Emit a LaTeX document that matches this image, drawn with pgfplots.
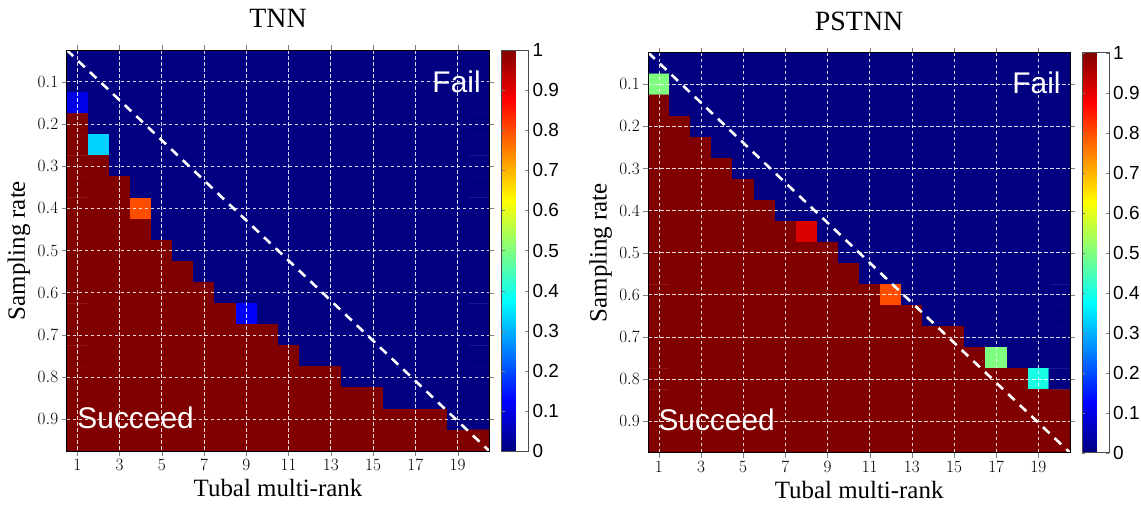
\documentclass[border=0pt]{standalone}
\usepackage{fontspec}
\setmainfont{Liberation Serif}
\newfontfamily\arial{Liberation Sans}
\usepackage{pgfplots}
\usepackage{pgfplotstable}
\pgfplotsset{compat=1.18}

\pgfplotstableread[row sep=\\]{
x y c\\
1 0.05 0\\ 2 0.05 0\\ 3 0.05 0\\ 4 0.05 0\\ 5 0.05 0\\ 6 0.05 0\\ 7 0.05 0\\ 8 0.05 0\\ 9 0.05 0\\ 10 0.05 0\\ 11 0.05 0\\ 12 0.05 0\\ 13 0.05 0\\ 14 0.05 0\\ 15 0.05 0\\ 16 0.05 0\\ 17 0.05 0\\ 18 0.05 0\\ 19 0.05 0\\ 20 0.05 0\\
1 0.10 0\\ 2 0.10 0\\ 3 0.10 0\\ 4 0.10 0\\ 5 0.10 0\\ 6 0.10 0\\ 7 0.10 0\\ 8 0.10 0\\ 9 0.10 0\\ 10 0.10 0\\ 11 0.10 0\\ 12 0.10 0\\ 13 0.10 0\\ 14 0.10 0\\ 15 0.10 0\\ 16 0.10 0\\ 17 0.10 0\\ 18 0.10 0\\ 19 0.10 0\\ 20 0.10 0\\
1 0.15 0.1\\ 2 0.15 0\\ 3 0.15 0\\ 4 0.15 0\\ 5 0.15 0\\ 6 0.15 0\\ 7 0.15 0\\ 8 0.15 0\\ 9 0.15 0\\ 10 0.15 0\\ 11 0.15 0\\ 12 0.15 0\\ 13 0.15 0\\ 14 0.15 0\\ 15 0.15 0\\ 16 0.15 0\\ 17 0.15 0\\ 18 0.15 0\\ 19 0.15 0\\ 20 0.15 0\\
1 0.20 1\\ 2 0.20 0\\ 3 0.20 0\\ 4 0.20 0\\ 5 0.20 0\\ 6 0.20 0\\ 7 0.20 0\\ 8 0.20 0\\ 9 0.20 0\\ 10 0.20 0\\ 11 0.20 0\\ 12 0.20 0\\ 13 0.20 0\\ 14 0.20 0\\ 15 0.20 0\\ 16 0.20 0\\ 17 0.20 0\\ 18 0.20 0\\ 19 0.20 0\\ 20 0.20 0\\
1 0.25 1\\ 2 0.25 0.33\\ 3 0.25 0\\ 4 0.25 0\\ 5 0.25 0\\ 6 0.25 0\\ 7 0.25 0\\ 8 0.25 0\\ 9 0.25 0\\ 10 0.25 0\\ 11 0.25 0\\ 12 0.25 0\\ 13 0.25 0\\ 14 0.25 0\\ 15 0.25 0\\ 16 0.25 0\\ 17 0.25 0\\ 18 0.25 0\\ 19 0.25 0\\ 20 0.25 0\\
1 0.30 1\\ 2 0.30 1\\ 3 0.30 0\\ 4 0.30 0\\ 5 0.30 0\\ 6 0.30 0\\ 7 0.30 0\\ 8 0.30 0\\ 9 0.30 0\\ 10 0.30 0\\ 11 0.30 0\\ 12 0.30 0\\ 13 0.30 0\\ 14 0.30 0\\ 15 0.30 0\\ 16 0.30 0\\ 17 0.30 0\\ 18 0.30 0\\ 19 0.30 0\\ 20 0.30 0\\
1 0.35 1\\ 2 0.35 1\\ 3 0.35 1\\ 4 0.35 0\\ 5 0.35 0\\ 6 0.35 0\\ 7 0.35 0\\ 8 0.35 0\\ 9 0.35 0\\ 10 0.35 0\\ 11 0.35 0\\ 12 0.35 0\\ 13 0.35 0\\ 14 0.35 0\\ 15 0.35 0\\ 16 0.35 0\\ 17 0.35 0\\ 18 0.35 0\\ 19 0.35 0\\ 20 0.35 0\\
1 0.40 1\\ 2 0.40 1\\ 3 0.40 1\\ 4 0.40 0.8\\ 5 0.40 0\\ 6 0.40 0\\ 7 0.40 0\\ 8 0.40 0\\ 9 0.40 0\\ 10 0.40 0\\ 11 0.40 0\\ 12 0.40 0\\ 13 0.40 0\\ 14 0.40 0\\ 15 0.40 0\\ 16 0.40 0\\ 17 0.40 0\\ 18 0.40 0\\ 19 0.40 0\\ 20 0.40 0\\
1 0.45 1\\ 2 0.45 1\\ 3 0.45 1\\ 4 0.45 1\\ 5 0.45 0\\ 6 0.45 0\\ 7 0.45 0\\ 8 0.45 0\\ 9 0.45 0\\ 10 0.45 0\\ 11 0.45 0\\ 12 0.45 0\\ 13 0.45 0\\ 14 0.45 0\\ 15 0.45 0\\ 16 0.45 0\\ 17 0.45 0\\ 18 0.45 0\\ 19 0.45 0\\ 20 0.45 0\\
1 0.50 1\\ 2 0.50 1\\ 3 0.50 1\\ 4 0.50 1\\ 5 0.50 1\\ 6 0.50 0\\ 7 0.50 0\\ 8 0.50 0\\ 9 0.50 0\\ 10 0.50 0\\ 11 0.50 0\\ 12 0.50 0\\ 13 0.50 0\\ 14 0.50 0\\ 15 0.50 0\\ 16 0.50 0\\ 17 0.50 0\\ 18 0.50 0\\ 19 0.50 0\\ 20 0.50 0\\
1 0.55 1\\ 2 0.55 1\\ 3 0.55 1\\ 4 0.55 1\\ 5 0.55 1\\ 6 0.55 1\\ 7 0.55 0\\ 8 0.55 0\\ 9 0.55 0\\ 10 0.55 0\\ 11 0.55 0\\ 12 0.55 0\\ 13 0.55 0\\ 14 0.55 0\\ 15 0.55 0\\ 16 0.55 0\\ 17 0.55 0\\ 18 0.55 0\\ 19 0.55 0\\ 20 0.55 0\\
1 0.60 1\\ 2 0.60 1\\ 3 0.60 1\\ 4 0.60 1\\ 5 0.60 1\\ 6 0.60 1\\ 7 0.60 1\\ 8 0.60 0\\ 9 0.60 0\\ 10 0.60 0\\ 11 0.60 0\\ 12 0.60 0\\ 13 0.60 0\\ 14 0.60 0\\ 15 0.60 0\\ 16 0.60 0\\ 17 0.60 0\\ 18 0.60 0\\ 19 0.60 0\\ 20 0.60 0\\
1 0.65 1\\ 2 0.65 1\\ 3 0.65 1\\ 4 0.65 1\\ 5 0.65 1\\ 6 0.65 1\\ 7 0.65 1\\ 8 0.65 1\\ 9 0.65 0.12\\ 10 0.65 0\\ 11 0.65 0\\ 12 0.65 0\\ 13 0.65 0\\ 14 0.65 0\\ 15 0.65 0\\ 16 0.65 0\\ 17 0.65 0\\ 18 0.65 0\\ 19 0.65 0\\ 20 0.65 0\\
1 0.70 1\\ 2 0.70 1\\ 3 0.70 1\\ 4 0.70 1\\ 5 0.70 1\\ 6 0.70 1\\ 7 0.70 1\\ 8 0.70 1\\ 9 0.70 1\\ 10 0.70 1\\ 11 0.70 0\\ 12 0.70 0\\ 13 0.70 0\\ 14 0.70 0\\ 15 0.70 0\\ 16 0.70 0\\ 17 0.70 0\\ 18 0.70 0\\ 19 0.70 0\\ 20 0.70 0\\
1 0.75 1\\ 2 0.75 1\\ 3 0.75 1\\ 4 0.75 1\\ 5 0.75 1\\ 6 0.75 1\\ 7 0.75 1\\ 8 0.75 1\\ 9 0.75 1\\ 10 0.75 1\\ 11 0.75 1\\ 12 0.75 0\\ 13 0.75 0\\ 14 0.75 0\\ 15 0.75 0\\ 16 0.75 0\\ 17 0.75 0\\ 18 0.75 0\\ 19 0.75 0\\ 20 0.75 0\\
1 0.80 1\\ 2 0.80 1\\ 3 0.80 1\\ 4 0.80 1\\ 5 0.80 1\\ 6 0.80 1\\ 7 0.80 1\\ 8 0.80 1\\ 9 0.80 1\\ 10 0.80 1\\ 11 0.80 1\\ 12 0.80 1\\ 13 0.80 1\\ 14 0.80 0\\ 15 0.80 0\\ 16 0.80 0\\ 17 0.80 0\\ 18 0.80 0\\ 19 0.80 0\\ 20 0.80 0\\
1 0.85 1\\ 2 0.85 1\\ 3 0.85 1\\ 4 0.85 1\\ 5 0.85 1\\ 6 0.85 1\\ 7 0.85 1\\ 8 0.85 1\\ 9 0.85 1\\ 10 0.85 1\\ 11 0.85 1\\ 12 0.85 1\\ 13 0.85 1\\ 14 0.85 1\\ 15 0.85 1\\ 16 0.85 0\\ 17 0.85 0\\ 18 0.85 0\\ 19 0.85 0\\ 20 0.85 0\\
1 0.90 1\\ 2 0.90 1\\ 3 0.90 1\\ 4 0.90 1\\ 5 0.90 1\\ 6 0.90 1\\ 7 0.90 1\\ 8 0.90 1\\ 9 0.90 1\\ 10 0.90 1\\ 11 0.90 1\\ 12 0.90 1\\ 13 0.90 1\\ 14 0.90 1\\ 15 0.90 1\\ 16 0.90 1\\ 17 0.90 1\\ 18 0.90 1\\ 19 0.90 0\\ 20 0.90 0\\
1 0.95 1\\ 2 0.95 1\\ 3 0.95 1\\ 4 0.95 1\\ 5 0.95 1\\ 6 0.95 1\\ 7 0.95 1\\ 8 0.95 1\\ 9 0.95 1\\ 10 0.95 1\\ 11 0.95 1\\ 12 0.95 1\\ 13 0.95 1\\ 14 0.95 1\\ 15 0.95 1\\ 16 0.95 1\\ 17 0.95 1\\ 18 0.95 1\\ 19 0.95 1\\ 20 0.95 1\\
}\tnn

\pgfplotstableread[row sep=\\]{
x y c\\
1 0.05 0\\ 2 0.05 0\\ 3 0.05 0\\ 4 0.05 0\\ 5 0.05 0\\ 6 0.05 0\\ 7 0.05 0\\ 8 0.05 0\\ 9 0.05 0\\ 10 0.05 0\\ 11 0.05 0\\ 12 0.05 0\\ 13 0.05 0\\ 14 0.05 0\\ 15 0.05 0\\ 16 0.05 0\\ 17 0.05 0\\ 18 0.05 0\\ 19 0.05 0\\ 20 0.05 0\\
1 0.10 0.5\\ 2 0.10 0\\ 3 0.10 0\\ 4 0.10 0\\ 5 0.10 0\\ 6 0.10 0\\ 7 0.10 0\\ 8 0.10 0\\ 9 0.10 0\\ 10 0.10 0\\ 11 0.10 0\\ 12 0.10 0\\ 13 0.10 0\\ 14 0.10 0\\ 15 0.10 0\\ 16 0.10 0\\ 17 0.10 0\\ 18 0.10 0\\ 19 0.10 0\\ 20 0.10 0\\
1 0.15 1\\ 2 0.15 0\\ 3 0.15 0\\ 4 0.15 0\\ 5 0.15 0\\ 6 0.15 0\\ 7 0.15 0\\ 8 0.15 0\\ 9 0.15 0\\ 10 0.15 0\\ 11 0.15 0\\ 12 0.15 0\\ 13 0.15 0\\ 14 0.15 0\\ 15 0.15 0\\ 16 0.15 0\\ 17 0.15 0\\ 18 0.15 0\\ 19 0.15 0\\ 20 0.15 0\\
1 0.20 1\\ 2 0.20 1\\ 3 0.20 0\\ 4 0.20 0\\ 5 0.20 0\\ 6 0.20 0\\ 7 0.20 0\\ 8 0.20 0\\ 9 0.20 0\\ 10 0.20 0\\ 11 0.20 0\\ 12 0.20 0\\ 13 0.20 0\\ 14 0.20 0\\ 15 0.20 0\\ 16 0.20 0\\ 17 0.20 0\\ 18 0.20 0\\ 19 0.20 0\\ 20 0.20 0\\
1 0.25 1\\ 2 0.25 1\\ 3 0.25 1\\ 4 0.25 0\\ 5 0.25 0\\ 6 0.25 0\\ 7 0.25 0\\ 8 0.25 0\\ 9 0.25 0\\ 10 0.25 0\\ 11 0.25 0\\ 12 0.25 0\\ 13 0.25 0\\ 14 0.25 0\\ 15 0.25 0\\ 16 0.25 0\\ 17 0.25 0\\ 18 0.25 0\\ 19 0.25 0\\ 20 0.25 0\\
1 0.30 1\\ 2 0.30 1\\ 3 0.30 1\\ 4 0.30 1\\ 5 0.30 0\\ 6 0.30 0\\ 7 0.30 0\\ 8 0.30 0\\ 9 0.30 0\\ 10 0.30 0\\ 11 0.30 0\\ 12 0.30 0\\ 13 0.30 0\\ 14 0.30 0\\ 15 0.30 0\\ 16 0.30 0\\ 17 0.30 0\\ 18 0.30 0\\ 19 0.30 0\\ 20 0.30 0\\
1 0.35 1\\ 2 0.35 1\\ 3 0.35 1\\ 4 0.35 1\\ 5 0.35 1\\ 6 0.35 0\\ 7 0.35 0\\ 8 0.35 0\\ 9 0.35 0\\ 10 0.35 0\\ 11 0.35 0\\ 12 0.35 0\\ 13 0.35 0\\ 14 0.35 0\\ 15 0.35 0\\ 16 0.35 0\\ 17 0.35 0\\ 18 0.35 0\\ 19 0.35 0\\ 20 0.35 0\\
1 0.40 1\\ 2 0.40 1\\ 3 0.40 1\\ 4 0.40 1\\ 5 0.40 1\\ 6 0.40 1\\ 7 0.40 0\\ 8 0.40 0\\ 9 0.40 0\\ 10 0.40 0\\ 11 0.40 0\\ 12 0.40 0\\ 13 0.40 0\\ 14 0.40 0\\ 15 0.40 0\\ 16 0.40 0\\ 17 0.40 0\\ 18 0.40 0\\ 19 0.40 0\\ 20 0.40 0\\
1 0.45 1\\ 2 0.45 1\\ 3 0.45 1\\ 4 0.45 1\\ 5 0.45 1\\ 6 0.45 1\\ 7 0.45 1\\ 8 0.45 0.91\\ 9 0.45 0\\ 10 0.45 0\\ 11 0.45 0\\ 12 0.45 0\\ 13 0.45 0\\ 14 0.45 0\\ 15 0.45 0\\ 16 0.45 0\\ 17 0.45 0\\ 18 0.45 0\\ 19 0.45 0\\ 20 0.45 0\\
1 0.50 1\\ 2 0.50 1\\ 3 0.50 1\\ 4 0.50 1\\ 5 0.50 1\\ 6 0.50 1\\ 7 0.50 1\\ 8 0.50 1\\ 9 0.50 1\\ 10 0.50 0\\ 11 0.50 0\\ 12 0.50 0\\ 13 0.50 0\\ 14 0.50 0\\ 15 0.50 0\\ 16 0.50 0\\ 17 0.50 0\\ 18 0.50 0\\ 19 0.50 0\\ 20 0.50 0\\
1 0.55 1\\ 2 0.55 1\\ 3 0.55 1\\ 4 0.55 1\\ 5 0.55 1\\ 6 0.55 1\\ 7 0.55 1\\ 8 0.55 1\\ 9 0.55 1\\ 10 0.55 1\\ 11 0.55 0\\ 12 0.55 0\\ 13 0.55 0\\ 14 0.55 0\\ 15 0.55 0\\ 16 0.55 0\\ 17 0.55 0\\ 18 0.55 0\\ 19 0.55 0\\ 20 0.55 0\\
1 0.60 1\\ 2 0.60 1\\ 3 0.60 1\\ 4 0.60 1\\ 5 0.60 1\\ 6 0.60 1\\ 7 0.60 1\\ 8 0.60 1\\ 9 0.60 1\\ 10 0.60 1\\ 11 0.60 1\\ 12 0.60 0.8\\ 13 0.60 0\\ 14 0.60 0\\ 15 0.60 0\\ 16 0.60 0\\ 17 0.60 0\\ 18 0.60 0\\ 19 0.60 0\\ 20 0.60 0\\
1 0.65 1\\ 2 0.65 1\\ 3 0.65 1\\ 4 0.65 1\\ 5 0.65 1\\ 6 0.65 1\\ 7 0.65 1\\ 8 0.65 1\\ 9 0.65 1\\ 10 0.65 1\\ 11 0.65 1\\ 12 0.65 1\\ 13 0.65 1\\ 14 0.65 0\\ 15 0.65 0\\ 16 0.65 0\\ 17 0.65 0\\ 18 0.65 0\\ 19 0.65 0\\ 20 0.65 0\\
1 0.70 1\\ 2 0.70 1\\ 3 0.70 1\\ 4 0.70 1\\ 5 0.70 1\\ 6 0.70 1\\ 7 0.70 1\\ 8 0.70 1\\ 9 0.70 1\\ 10 0.70 1\\ 11 0.70 1\\ 12 0.70 1\\ 13 0.70 1\\ 14 0.70 1\\ 15 0.70 1\\ 16 0.70 0\\ 17 0.70 0\\ 18 0.70 0\\ 19 0.70 0\\ 20 0.70 0\\
1 0.75 1\\ 2 0.75 1\\ 3 0.75 1\\ 4 0.75 1\\ 5 0.75 1\\ 6 0.75 1\\ 7 0.75 1\\ 8 0.75 1\\ 9 0.75 1\\ 10 0.75 1\\ 11 0.75 1\\ 12 0.75 1\\ 13 0.75 1\\ 14 0.75 1\\ 15 0.75 1\\ 16 0.75 1\\ 17 0.75 0.5\\ 18 0.75 0\\ 19 0.75 0\\ 20 0.75 0\\
1 0.80 1\\ 2 0.80 1\\ 3 0.80 1\\ 4 0.80 1\\ 5 0.80 1\\ 6 0.80 1\\ 7 0.80 1\\ 8 0.80 1\\ 9 0.80 1\\ 10 0.80 1\\ 11 0.80 1\\ 12 0.80 1\\ 13 0.80 1\\ 14 0.80 1\\ 15 0.80 1\\ 16 0.80 1\\ 17 0.80 1\\ 18 0.80 1\\ 19 0.80 0.4\\ 20 0.80 0\\
1 0.85 1\\ 2 0.85 1\\ 3 0.85 1\\ 4 0.85 1\\ 5 0.85 1\\ 6 0.85 1\\ 7 0.85 1\\ 8 0.85 1\\ 9 0.85 1\\ 10 0.85 1\\ 11 0.85 1\\ 12 0.85 1\\ 13 0.85 1\\ 14 0.85 1\\ 15 0.85 1\\ 16 0.85 1\\ 17 0.85 1\\ 18 0.85 1\\ 19 0.85 1\\ 20 0.85 1\\
1 0.90 1\\ 2 0.90 1\\ 3 0.90 1\\ 4 0.90 1\\ 5 0.90 1\\ 6 0.90 1\\ 7 0.90 1\\ 8 0.90 1\\ 9 0.90 1\\ 10 0.90 1\\ 11 0.90 1\\ 12 0.90 1\\ 13 0.90 1\\ 14 0.90 1\\ 15 0.90 1\\ 16 0.90 1\\ 17 0.90 1\\ 18 0.90 1\\ 19 0.90 1\\ 20 0.90 1\\
1 0.95 1\\ 2 0.95 1\\ 3 0.95 1\\ 4 0.95 1\\ 5 0.95 1\\ 6 0.95 1\\ 7 0.95 1\\ 8 0.95 1\\ 9 0.95 1\\ 10 0.95 1\\ 11 0.95 1\\ 12 0.95 1\\ 13 0.95 1\\ 14 0.95 1\\ 15 0.95 1\\ 16 0.95 1\\ 17 0.95 1\\ 18 0.95 1\\ 19 0.95 1\\ 20 0.95 1\\
}\pstnn

\tikzset{ann/.style={text=white, inner sep=0pt, font=\arial\fontsize{30}{30}\selectfont}}

\pgfplotsset{
  hm/.style={
    scale only axis, axis on top, y dir=reverse,
    xmin=0.5, xmax=20.5, ymin=0.025, ymax=0.975,
    xtick={1,3,5,7,9,11,13,15,17,19},
    ytick={0.1,0.2,0.3,0.4,0.5,0.6,0.7,0.8,0.9},
    yticklabel style={/pgf/number format/fixed, /pgf/number format/precision=1, /pgf/number format/fixed zerofill},
    tick align=outside, major tick length=5bp,
    tick label style={font=\fontsize{17}{17}\selectfont},
    grid=major,
    major grid style={white, opacity=0.85, line width=0.7bp, dash pattern=on 3.5bp off 2.5bp},
    axis line style={line width=0.8bp},
    colormap/jet, point meta min=0, point meta max=1,
    colorbar,
    colorbar style={
      at={(parent axis.north east)}, anchor=north west, xshift=3.9bp,
      width=26.6bp,
      ytick={0,0.1,0.2,0.3,0.4,0.5,0.6,0.7,0.8,0.9,1},
      yticklabels={0,0.1,0.2,0.3,0.4,0.5,0.6,0.7,0.8,0.9,1},
      yticklabel style={font=\arial\fontsize{19}{19}\selectfont, inner sep=0pt, xshift=4bp},
      tick align=inside, major tick length=3bp,
      axis line style={draw=black!70, line width=0.8bp},
    },
    xlabel={Tubal multi-rank}, ylabel={Sampling rate},
    every axis title/.style={at={(axis description cs:0.5,1.0566)}, anchor=base, font=\fontsize{28}{28}\selectfont},
    every axis x label/.style={at={(axis description cs:0.5,-0.1147)}, anchor=base, font=\fontsize{25}{25}\selectfont},
    every axis y label/.style={at={(axis description cs:-0.0987,0.5)}, rotate=90, anchor=base, font=\fontsize{25}{25}\selectfont},
  },
}

\begin{document}
\begin{tikzpicture}
\path[use as bounding box] (0,0) rectangle (1141bp,506bp);
\begin{axis}[hm, at={(66.7bp,55bp)}, anchor=south west, width=422.6bp, height=401bp, title={TNN}]
\addplot[matrix plot*, mesh/cols=20, point meta=explicit] table[x=x, y=y, meta=c] {\tnn};
\addplot[white, line width=2.6bp, dash pattern=on 9bp off 7bp] coordinates {(0.5,0.025) (20.5,0.975)};
\node[ann, anchor=base east] at (axis description cs:0.98,0.8935) {Fail};
\node[ann, anchor=base west] at (axis description cs:0.025,0.0566) {Succeed};
\end{axis}
\begin{axis}[hm, at={(648.3bp,53.3bp)}, anchor=south west, width=421.7bp, height=400bp, title={PSTNN}]
\addplot[matrix plot*, mesh/cols=20, point meta=explicit] table[x=x, y=y, meta=c] {\pstnn};
\addplot[white, line width=2.6bp, dash pattern=on 9bp off 7bp] coordinates {(0.5,0.025) (20.5,0.975)};
\node[ann, anchor=base east] at (axis description cs:0.978,0.897) {Fail};
\node[ann, anchor=base west] at (axis description cs:0.0237,0.055) {Succeed};
\end{axis}
\end{tikzpicture}
\end{document}
